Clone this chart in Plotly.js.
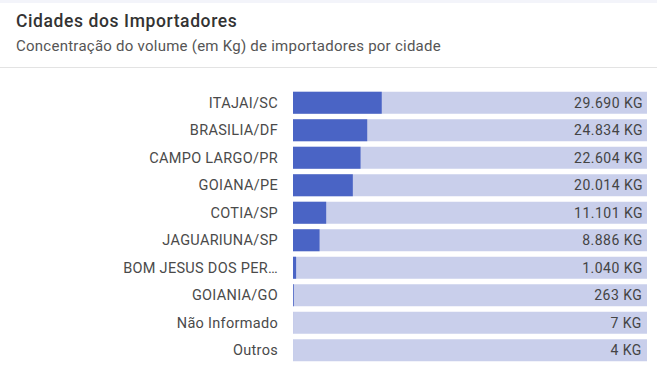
<!DOCTYPE html>
<html>
<head>
<meta charset="utf-8">
<script src="https://cdn.plot.ly/plotly-3.0.1.min.js"></script>
<style>
html,body{margin:0;padding:0;background:#fff;}
#chart{width:657px;height:370px;}
#chart .ytick text{letter-spacing:0.3px;}
#chart .bartext{letter-spacing:0.5px;}
#chart .annotation[data-index="0"] text{letter-spacing:0.6px;}
#chart .annotation[data-index="1"] text{letter-spacing:0.25px;}
</style>
</head>
<body>
<div id="chart"></div>
<script>
const categories = ["ITAJAI/SC","BRASILIA/DF","CAMPO LARGO/PR","GOIANA/PE","COTIA/SP","JAGUARIUNA/SP","BOM JESUS DOS PER…","GOIANIA/GO","Não Informado","Outros"];
const volumes = [29690, 24834, 22604, 20014, 11101, 8886, 1040, 263, 7, 4];
const unit = "KG";

const total = volumes.reduce((a, b) => a + b, 0);
const totals = volumes.map(() => total);
function fmt(v) { return String(Math.round(v)).replace(/\B(?=(\d{3})+(?!\d))/g, "."); }
const labels = volumes.map(v => fmt(v) + " " + unit);

const T = 89, B = 364, H = B - T, L = 293, R = 647, W = R - L;
const py = p => (B - p) / H;
const px = p => (p - L) / W;

const font = "Roboto, sans-serif";

const data = [
  {type: "bar", orientation: "h", y: categories, x: totals, marker: {color: "#c9cfeb"},
   text: labels, texttemplate: "%{text}\u2009", textposition: "inside", insidetextanchor: "end", constraintext: "none",
   textfont: {family: font, size: 14, color: "#444"}, hoverinfo: "skip"},
  {type: "bar", orientation: "h", y: categories, x: volumes, marker: {color: "#4a64c5"}, hoverinfo: "skip"}
];

const layout = {
  width: 657, height: 370,
  margin: {l: L, r: 657 - R, t: T, b: 370 - B, pad: 0},
  paper_bgcolor: "#fff", plot_bgcolor: "#fff",
  barmode: "overlay", bargap: 0.2, showlegend: false,
  xaxis: {range: [0, total], showgrid: false, zeroline: false, showticklabels: false, fixedrange: true},
  yaxis: {autorange: "reversed", showgrid: false, zeroline: false, ticks: "", ticklabelstandoff: 14,
          tickfont: {family: font, size: 14.5, color: "#4a4a4a"}},
  annotations: [
    {xref: "paper", yref: "paper", x: px(14), y: py(21), xanchor: "left", yanchor: "middle", align: "left", showarrow: false,
     text: "Cidades dos Importadores", font: {family: font, size: 17.5, color: "#333", weight: 500}},
    {xref: "paper", yref: "paper", x: px(14), y: py(46), xanchor: "left", yanchor: "middle", align: "left", showarrow: false,
     text: "Concentração do volume (em Kg) de importadores por cidade", font: {family: font, size: 15, color: "#555"}}
  ],
  shapes: [
    {type: "rect", xref: "paper", yref: "paper", x0: px(0), x1: px(657), y0: py(0), y1: py(3), line: {width: 0}, fillcolor: "#f3f4fa"},
    {type: "line", xref: "paper", yref: "paper", x0: px(0), x1: px(657), y0: py(67.5), y1: py(67.5), line: {color: "#e3e3e3", width: 1}}
  ]
};

Plotly.newPlot("chart", data, layout, {displayModeBar: false, staticPlot: true});
</script>
</body>
</html>
